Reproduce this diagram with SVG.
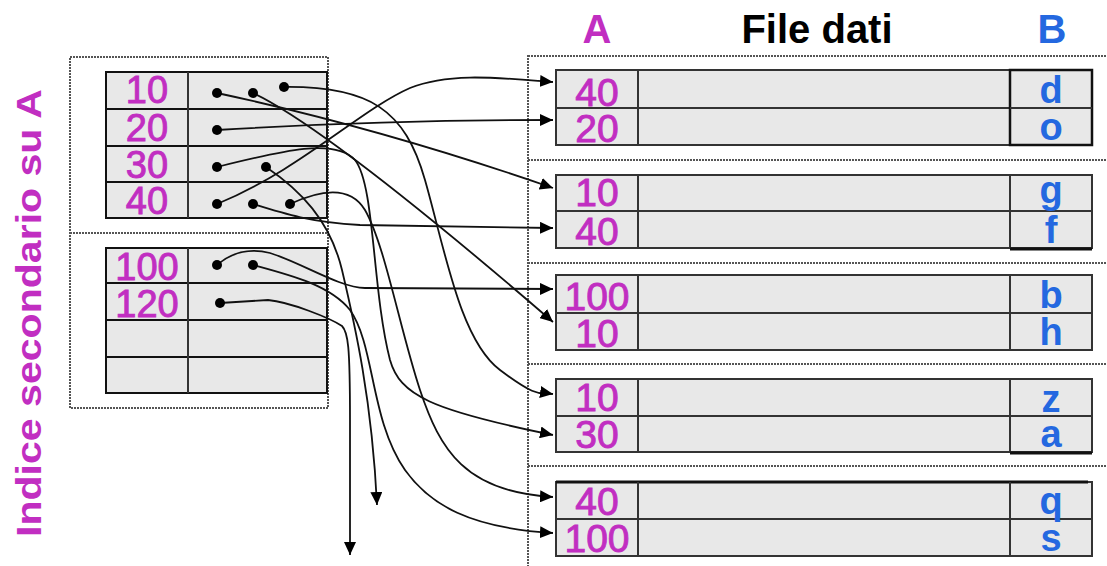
<svg xmlns="http://www.w3.org/2000/svg" width="1107" height="566" viewBox="0 0 1107 566">
  <style>
    .cell { fill: #e8e8e8; stroke: #333; stroke-width: 2; }
    .icell { fill: #e8e8e8; stroke: #111; stroke-width: 2; }
    .div { stroke: #333; stroke-width: 2; }
    .dotted { fill: none; stroke: #555; stroke-width: 2; stroke-dasharray: 2 1; }
    .key { font-family: "Liberation Sans", Arial, sans-serif; fill: #c12ec1; stroke: #c12ec1; stroke-width: 0.9; text-anchor: middle; }
    .ik { font-size: 38px; }
    .dk { font-size: 39px; }
    .b { font-family: "Liberation Sans", Arial, sans-serif; font-weight: bold; font-size: 38px; fill: #2468e0; text-anchor: middle; }
    .head { font-family: "Liberation Sans", Arial, sans-serif; font-weight: bold; font-size: 40px; text-anchor: middle; }
    .link { fill: none; stroke: #111; stroke-width: 1.8; }
    .ptr { fill: #000; }
  </style>
  <defs>
    <marker id="arrow" markerUnits="userSpaceOnUse" markerWidth="14" markerHeight="12" refX="13" refY="6" orient="auto">
      <path d="M0,0 L13,6 L0,12 Z" fill="#000"/>
    </marker>
  </defs>

  <rect width="1107" height="566" fill="#fff"/>

  <!-- side label -->
  <text id="index-label" transform="translate(41,537) rotate(-90)" font-family="'Liberation Sans', Arial, sans-serif" font-weight="bold" font-size="35" fill="#c12ec1" textLength="448" lengthAdjust="spacingAndGlyphs">Indice secondario su A</text>

  <!-- headings -->
  <g id="headings">
    <text class="head" x="597" y="43" fill="#c12ec1">A</text>
    <text class="head" x="817" y="43" fill="#000">File dati</text>
    <text class="head" x="1052" y="43" fill="#2468e0">B</text>
  </g>

  <!-- secondary index, two pages -->
  <g id="index">
    <rect class="dotted" x="70" y="57" width="258" height="351"/>
    <line class="dotted" x1="70" y1="233" x2="328" y2="233"/>
    <g id="index-page1">
      <rect class="icell" x="106" y="72" width="221" height="37"/>
      <rect class="icell" x="106" y="109" width="221" height="37"/>
      <rect class="icell" x="106" y="146" width="221" height="36"/>
      <rect class="icell" x="106" y="182" width="221" height="36"/>
      <line class="div" x1="188" y1="72" x2="188" y2="218" stroke="#111"/>
      <text class="key ik" x="147" y="103">10</text>
      <text class="key ik" x="147" y="141">20</text>
      <text class="key ik" x="147" y="178">30</text>
      <text class="key ik" x="147" y="214">40</text>
    </g>
    <g id="index-page2">
      <rect class="icell" x="106" y="248" width="221" height="35"/>
      <rect class="icell" x="106" y="283" width="221" height="37"/>
      <rect class="icell" x="106" y="320" width="221" height="37"/>
      <rect class="icell" x="106" y="357" width="221" height="36"/>
      <line class="div" x1="188" y1="248" x2="188" y2="393" stroke="#111"/>
      <text class="key ik" x="147" y="280">100</text>
      <text class="key ik" x="147" y="317">120</text>
    </g>
  </g>

  <!-- data file, five blocks -->
  <g id="data-file">
    <line class="dotted" x1="528" y1="55" x2="528" y2="566"/>
    <line class="dotted" x1="528" y1="56" x2="1107" y2="56"/>
    <line class="dotted" x1="528" y1="160" x2="1107" y2="160"/>
    <line class="dotted" x1="528" y1="263" x2="1107" y2="263"/>
    <line class="dotted" x1="528" y1="364" x2="1107" y2="364"/>
    <line class="dotted" x1="528" y1="466" x2="1107" y2="466"/>

    <g id="block1">
      <rect class="cell" x="556" y="70" width="536" height="38"/>
      <rect class="cell" x="556" y="108" width="536" height="37"/>
      <line class="div" x1="638" y1="70" x2="638" y2="145"/>
      <rect x="1010" y="70" width="82" height="75" fill="none" stroke="#111" stroke-width="2.5"/>
      <line class="div" x1="1010" y1="108" x2="1092" y2="108" stroke="#111"/>
      <text class="key dk" x="597" y="106">40</text>
      <text class="key dk" x="597" y="142">20</text>
      <text class="b" x="1051" y="103">d</text>
      <text class="b" x="1051" y="140">o</text>
    </g>
    <g id="block2">
      <rect class="cell" x="556" y="175" width="536" height="36"/>
      <rect class="cell" x="556" y="211" width="536" height="37"/>
      <line class="div" x1="638" y1="175" x2="638" y2="248"/>
      <line class="div" x1="1010" y1="175" x2="1010" y2="248" stroke="#111"/>
      <line x1="1010" y1="249" x2="1092" y2="249" stroke="#111" stroke-width="3"/>
      <text class="key dk" x="597" y="206">10</text>
      <text class="key dk" x="597" y="245">40</text>
      <text class="b" x="1051" y="203">g</text>
      <text class="b" x="1051" y="243">f</text>
    </g>
    <g id="block3">
      <rect class="cell" x="556" y="275" width="536" height="38"/>
      <rect class="cell" x="556" y="313" width="536" height="37"/>
      <line class="div" x1="638" y1="275" x2="638" y2="350"/>
      <line class="div" x1="1010" y1="275" x2="1010" y2="350"/>
      <text class="key dk" x="597" y="310">100</text>
      <text class="key dk" x="597" y="347">10</text>
      <text class="b" x="1051" y="308">b</text>
      <text class="b" x="1051" y="345">h</text>
    </g>
    <g id="block4">
      <rect class="cell" x="556" y="379" width="536" height="37"/>
      <rect class="cell" x="556" y="416" width="536" height="36"/>
      <line class="div" x1="638" y1="379" x2="638" y2="452"/>
      <line class="div" x1="1010" y1="379" x2="1010" y2="452"/>
      <line x1="1010" y1="453" x2="1092" y2="453" stroke="#111" stroke-width="3"/>
      <text class="key dk" x="597" y="411">10</text>
      <text class="key dk" x="597" y="448">30</text>
      <text class="b" x="1051" y="412">z</text>
      <text class="b" x="1051" y="447">a</text>
    </g>
    <g id="block5">
      <rect class="cell" x="556" y="482" width="536" height="37"/>
      <rect class="cell" x="556" y="519" width="536" height="37"/>
      <line x1="556" y1="482" x2="1088" y2="482" stroke="#111" stroke-width="3"/>
      <line class="div" x1="638" y1="482" x2="638" y2="556"/>
      <line class="div" x1="1010" y1="482" x2="1010" y2="556"/>
      <text class="key dk" x="597" y="515">40</text>
      <text class="key dk" x="597" y="552">100</text>
      <text class="b" x="1051" y="514">q</text>
      <text class="b" x="1051" y="551">s</text>
    </g>
  </g>

  <!-- record pointers -->
  <g id="connectors">
    <!-- key 10 -->
    <path class="link" marker-end="url(#arrow)" d="M217,93 Q380,128 553,188"/>
    <path class="link" marker-end="url(#arrow)" d="M253,93 C300,115 400,190 553,322"/>
    <path class="link" marker-end="url(#arrow)" d="M284,87 C370,86 405,110 425,180 S460,340 500,370 S540,392 553,394"/>
    <!-- key 20 -->
    <path class="link" marker-end="url(#arrow)" d="M217,130 C300,125 400,120 553,120"/>
    <!-- key 30 -->
    <path class="link" marker-end="url(#arrow)" d="M217,167 C285,150 335,138 355,160 C375,185 372,290 390,360 C400,395 430,410 553,435"/>
    <path class="link" marker-end="url(#arrow)" d="M266,167 C300,190 330,220 342,270 C355,325 372,400 377,505"/>
    <!-- key 40 -->
    <path class="link" marker-end="url(#arrow)" d="M217,204 C300,170 360,110 410,88 C450,72 500,78 553,82"/>
    <path class="link" marker-end="url(#arrow)" d="M253,204 C285,214 310,222 360,225 L553,228"/>
    <path class="link" marker-end="url(#arrow)" d="M290,204 C320,190 350,185 365,210 C385,245 400,330 420,390 C440,450 465,492 553,497"/>
    <!-- key 100 -->
    <path class="link" marker-end="url(#arrow)" d="M217,265 C232,252 250,248 270,253 C300,262 340,288 365,288 L553,289"/>
    <path class="link" marker-end="url(#arrow)" d="M253,265 C290,275 330,285 350,310 C375,345 370,420 405,470 C430,505 470,528 553,533"/>
    <!-- key 120 -->
    <path class="link" marker-end="url(#arrow)" d="M220,303 L268,300 C290,302 330,318 342,326 C348,332 350,345 350,420 L350,555"/>

    <g id="pointer-dots">
      <circle class="ptr" cx="217" cy="93" r="5"/>
      <circle class="ptr" cx="253" cy="93" r="5"/>
      <circle class="ptr" cx="284" cy="87" r="5"/>
      <circle class="ptr" cx="217" cy="130" r="5"/>
      <circle class="ptr" cx="217" cy="167" r="5"/>
      <circle class="ptr" cx="266" cy="167" r="5"/>
      <circle class="ptr" cx="217" cy="204" r="5"/>
      <circle class="ptr" cx="253" cy="204" r="5"/>
      <circle class="ptr" cx="290" cy="204" r="5"/>
      <circle class="ptr" cx="217" cy="265" r="5"/>
      <circle class="ptr" cx="253" cy="265" r="5"/>
      <circle class="ptr" cx="220" cy="303" r="5"/>
    </g>
  </g>
</svg>
